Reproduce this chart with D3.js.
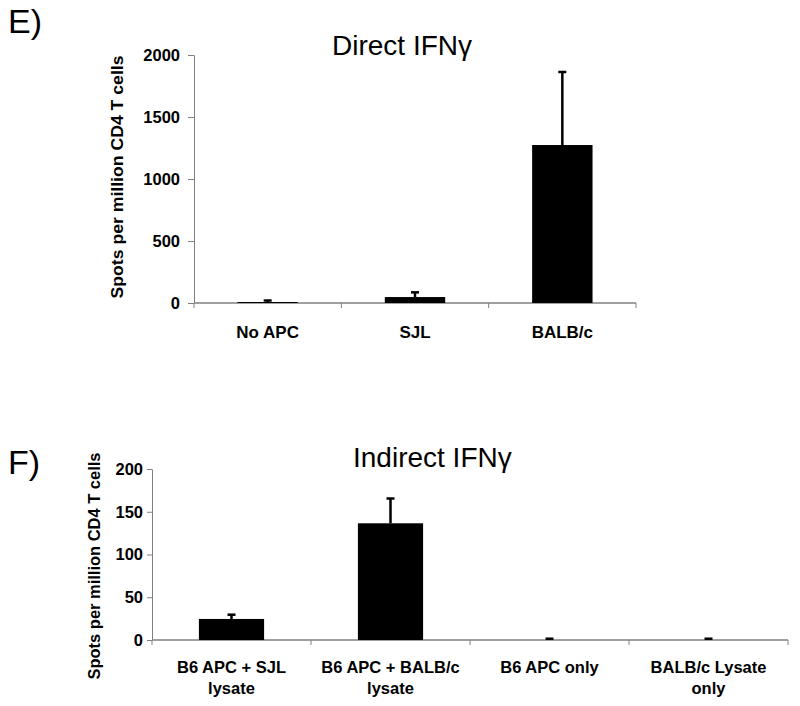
<!DOCTYPE html>
<html>
<head>
<meta charset="utf-8">
<script src="https://cdn.jsdelivr.net/npm/d3@7"></script>
<style>
  html, body { margin: 0; padding: 0; background: #fff; }
  svg { display: block; }
  text { font-family: "Liberation Sans", Arial, sans-serif; fill: #000; }
</style>
</head>
<body>
<svg id="chart" width="800" height="706"></svg>
<script>
// ---------- data ----------
const directCategories = ["No APC", "SJL", "BALB/c"];
const directValues = [8, 48, 1274];
const directErrors = [12, 38, 589];
const directTicks = [0, 500, 1000, 1500, 2000];

const indirectCategories = [["B6 APC + SJL", "lysate"], ["B6 APC + BALB/c", "lysate"], ["B6 APC only"], ["BALB/c Lysate", "only"]];
const indirectValues = [24.6, 136.5, 0, 0];
const indirectErrors = [5, 29, 1.5, 1.5];
const indirectTicks = [0, 50, 100, 150, 200];

const yLabel = "Spots per million CD4 T cells";

const svg = d3.select("#chart");
const AXIS = "#808080";

function panel(opts) {
  const g = svg.append("g");
  const n = opts.cats.length;
  const x = d3.scaleBand().domain(d3.range(n)).range([opts.x0, opts.x1]).padding(0);
  const y = d3.scaleLinear().domain([0, opts.ymax]).range([opts.y0, opts.y1]);

  // y axis
  const yAxis = d3.axisLeft(y).tickValues(opts.ticks).tickFormat(d3.format("d"))
    .tickSize(opts.tickLen).tickSizeOuter(0).tickPadding(opts.tickPad);
  const ya = g.append("g").attr("transform", `translate(${opts.x0},0)`).call(yAxis);
  ya.select(".domain").attr("stroke", AXIS).attr("stroke-width", 1);
  ya.selectAll(".tick line").attr("stroke", AXIS);
  ya.selectAll(".tick text").style("font-family", "'Liberation Sans', Arial, sans-serif")
    .style("font-weight", "bold").style("font-size", opts.tickFont + "px").attr("fill", "#000");

  // x axis line and boundary ticks
  g.append("line").attr("x1", opts.x0).attr("x2", opts.x1).attr("y1", y(0)).attr("y2", y(0))
    .attr("stroke", AXIS).attr("stroke-width", 1.5);
  const bounds = d3.range(n + 1).map(i => i < n ? x(i) : opts.x1);
  g.selectAll(".xt").data(bounds).enter().append("line")
    .attr("x1", d => d).attr("x2", d => d).attr("y1", y(0)).attr("y2", y(0) + 5)
    .attr("stroke", AXIS).attr("stroke-width", 1);

  // bars
  const bw = x.bandwidth() * 0.41;
  const cx = i => x(i) + x.bandwidth() / 2;
  g.selectAll(".bar").data(opts.vals).enter().append("rect")
    .attr("x", (d, i) => cx(i) - bw / 2).attr("width", bw)
    .attr("y", d => y(d)).attr("height", d => y(0) - y(d)).attr("fill", "#000");

  // error bars (upper only)
  g.selectAll(".err").data(opts.vals).enter().append("line")
    .attr("x1", (d, i) => cx(i)).attr("x2", (d, i) => cx(i))
    .attr("y1", d => y(d)).attr("y2", (d, i) => y(d + opts.errs[i]))
    .attr("stroke", "#000").attr("stroke-width", 2.5);
  g.selectAll(".cap").data(opts.vals).enter().append("line")
    .attr("x1", (d, i) => cx(i) - 4).attr("x2", (d, i) => cx(i) + 4)
    .attr("y1", (d, i) => y(d + opts.errs[i])).attr("y2", (d, i) => y(d + opts.errs[i]))
    .attr("stroke", "#000").attr("stroke-width", 2.5);

  // category labels
  opts.cats.forEach((c, i) => {
    const lines = Array.isArray(c) ? c : [c];
    const t = g.append("text").attr("text-anchor", "middle")
      .style("font-weight", "bold").style("font-size", opts.catFont + "px");
    lines.forEach((ln, j) => {
      t.append("tspan").attr("x", cx(i)).attr("y", y(0) + opts.catDy + j * opts.catLine).text(ln);
    });
  });

  // y label
  g.append("text").attr("text-anchor", "middle")
    .attr("transform", `translate(${opts.ylabX},${opts.ylabY}) rotate(-90)`)
    .attr("textLength", opts.ylabLen).attr("lengthAdjust", "spacingAndGlyphs")
    .style("font-weight", "bold").style("font-size", opts.ylabFont + "px").text(yLabel);

  // title
  g.append("text").attr("x", opts.titleX).attr("y", opts.titleY).attr("text-anchor", "start")
    .style("font-size", "28px").text(opts.title);

  // panel letter
  g.append("text").attr("x", 8).attr("y", opts.letterY).style("font-size", "34px").text(opts.letter);
}

panel({
  cats: directCategories, vals: directValues, errs: directErrors, ticks: directTicks, ymax: 2000,
  x0: 194, x1: 636, y0: 303, y1: 55, tickLen: 6, tickPad: 8, tickFont: 16.5,
  catFont: 17, catDy: 35, catLine: 21,
  ylabX: 123, ylabY: 177, ylabFont: 17, ylabLen: 243,
  title: "Direct IFNγ", titleX: 332, titleY: 55,
  letter: "E)", letterY: 33
});

panel({
  cats: indirectCategories, vals: indirectValues, errs: indirectErrors, ticks: indirectTicks, ymax: 200,
  x0: 152, x1: 788, y0: 640, y1: 469, tickLen: 5, tickPad: 4, tickFont: 16.5,
  catFont: 16.5, catDy: 33, catLine: 21,
  ylabX: 100, ylabY: 566, ylabFont: 16.5, ylabLen: 227,
  title: "Indirect IFNγ", titleX: 353, titleY: 467,
  letter: "F)", letterY: 474
});
</script>
</body>
</html>
